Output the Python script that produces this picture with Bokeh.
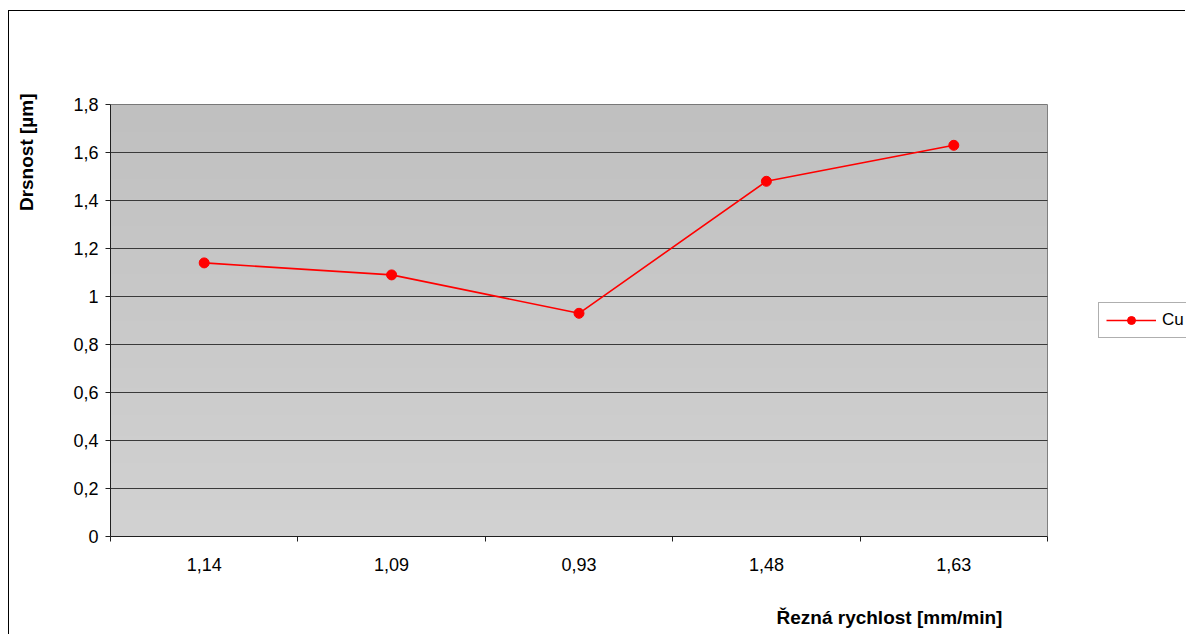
import numpy as np
from bokeh.plotting import figure
from bokeh.models import Range1d, FixedTicker, Legend, LegendItem, Title
from bokeh.embed import file_html
from bokeh.resources import INLINE

# Cutting speed categories (x axis) and measured roughness values
categories = ["1,14", "1,09", "0,93", "1,48", "1,63"]
roughness = [1.14, 1.09, 0.93, 1.48, 1.63]

# Value axis ticks and their labels (decimal comma)
y_ticks = [0, 0.2, 0.4, 0.6, 0.8, 1.0, 1.2, 1.4, 1.6, 1.8]
y_tick_labels = ["0", "0,2", "0,4", "0,6", "0,8", "1", "1,2", "1,4", "1,6", "1,8"]

series_name = "Cu"
x_title = "Řezná rychlost [mm/min]"
y_title = "Drsnost [µm]"

FONT = "Liberation Sans"
# chart area starts at (8, 10) in the page, framed on its left and top
OFF_X, OFF_Y = 9, 11
W, H = 1186 - OFF_X, 635 - OFF_Y
L, T = 110 - OFF_X, 104 - OFF_Y
B = H - (536 - OFF_Y)
FRAME_W = W - L              # frame runs to the right edge (room for the legend)
AREA_W = 1047 - 110          # width of the grey plot area

n = len(categories)
centers = [i + 0.5 for i in range(n)]
bounds = list(range(n + 1))
y0, y1 = y_ticks[0], y_ticks[-1]

p = figure(width=W, height=H, output_backend="svg", toolbar_location=None,
           x_range=Range1d(0, n * FRAME_W / AREA_W), y_range=Range1d(y0, y1),
           min_border_left=L, min_border_right=0, min_border_top=T,
           min_border_bottom=B, margin=(10, 0, 0, 8),
           styles={"border-left": "1px solid #000000",
                   "border-top": "1px solid #000000"})
p.border_fill_color = "white"
p.background_fill_color = "white"
p.outline_line_color = None
p.xgrid.grid_line_color = None
p.ygrid.grid_line_color = None

# Vertical grey gradient of the plot area
rows = 64
shade = np.linspace(210, 192, rows).astype(np.uint8)
img = np.zeros((rows, 1), dtype=np.uint32)
view = img.view(dtype=np.uint8).reshape((rows, 1, 4))
view[:, 0, 0] = shade
view[:, 0, 1] = shade
view[:, 0, 2] = shade
view[:, 0, 3] = 255
p.image_rgba(image=[img], x=0, y=y0, dw=n, dh=y1 - y0, level="image")

# Plot area border and horizontal grid lines
p.quad(left=[0], right=[n], bottom=[y0], top=[y1], fill_color=None,
       line_color="#808080", line_width=1, level="underlay")
p.segment(x0=[0] * (len(y_ticks) - 1), x1=[n] * (len(y_ticks) - 1),
          y0=y_ticks[1:], y1=y_ticks[1:], line_color="#3a3a3a",
          line_width=1, level="underlay")

# Y axis
p.yaxis.ticker = FixedTicker(ticks=y_ticks)
p.yaxis.major_label_overrides = dict(zip(y_ticks, y_tick_labels))
p.yaxis.axis_line_color = "#202020"
p.yaxis.major_tick_line_color = "#202020"
p.yaxis.major_tick_out = 5
p.yaxis.major_tick_in = 0
p.yaxis.minor_tick_line_color = None
p.yaxis.major_label_standoff = 7
p.yaxis.major_label_text_font = FONT
p.yaxis.major_label_text_font_size = "18px"
p.yaxis.major_label_text_color = "black"
p.yaxis.axis_label = " "
p.yaxis.axis_label_text_font_size = "10px"
p.yaxis.axis_label_standoff = 15

# X axis: labels at category centres, ticks on category boundaries
p.xaxis.ticker = FixedTicker(ticks=centers, minor_ticks=bounds)
p.xaxis.bounds = (0, n)
p.xaxis.major_label_overrides = dict(zip(centers, categories))
p.xaxis.axis_line_color = "#202020"
p.xaxis.major_tick_line_color = None
p.xaxis.major_tick_out = 0
p.xaxis.major_tick_in = 0
p.xaxis.minor_tick_line_color = "#202020"
p.xaxis.minor_tick_out = 5
p.xaxis.minor_tick_in = 0
p.xaxis.major_label_standoff = 16
p.xaxis.major_label_text_font = FONT
p.xaxis.major_label_text_font_size = "18px"
p.xaxis.major_label_text_color = "black"
p.xaxis.axis_label = " "
p.xaxis.axis_label_text_font_size = "10px"
p.xaxis.axis_label_standoff = 10

# Series
ln = p.line(centers, roughness, line_color="#ff0000", line_width=1.6)
sc = p.scatter(centers, roughness, size=10, marker="circle",
               fill_color="#ff0000", line_color="#ff0000")

legend = Legend(items=[LegendItem(label=series_name, renderers=[ln, sc])],
                location=(988, 198), orientation="vertical",
                glyph_width=50, glyph_height=20, label_standoff=6,
                padding=7, margin=0, spacing=0,
                border_line_color="#606060", border_line_width=1,
                background_fill_color="white", background_fill_alpha=1,
                label_text_font=FONT, label_text_font_size="17px",
                label_text_color="black")
p.add_layout(legend, "center")

# Axis titles
p.add_layout(Title(text=y_title, align="right", offset=-11,
                   vertical_align="top", standoff=6,
                   text_font=FONT, text_font_style="bold",
                   text_font_size="19px", text_color="black"), "left")
p.add_layout(Title(text=x_title, align="left", offset=666,
                   vertical_align="bottom", standoff=14,
                   text_font=FONT, text_font_style="bold",
                   text_font_size="19px", text_color="black"), "below")

open("out.html", "w").write(file_html(p, INLINE))
